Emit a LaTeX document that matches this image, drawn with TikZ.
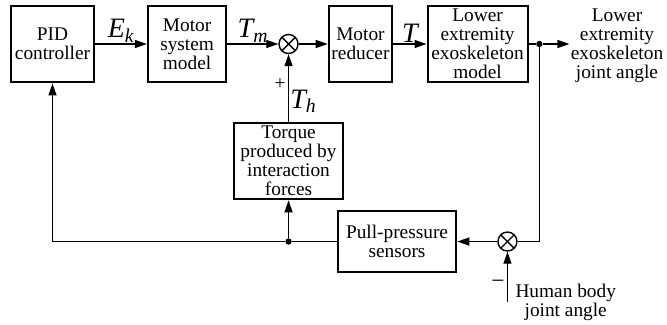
\documentclass[tikz,border=0pt]{standalone}
\usepackage{fontspec}
\setmainfont{Liberation Serif}
\usetikzlibrary{positioning, calc, arrows.meta}
\tikzset{
  % Block diagram
  block/.style     = { draw, line width=1.8pt, align=center, inner sep=0pt,
                       minimum height=2.3cm, font=\fontsize{16.5}{16.2}\selectfont },
  sumjunc/.style   = { circle, draw, line width=1.2pt, minimum size=0.57cm, inner sep=0,
                       path picture = {
                         \draw[line width=1.2pt] (path picture bounding box.north west) -- (path picture bounding box.south east);
                         \draw[line width=1.2pt] (path picture bounding box.north east) -- (path picture bounding box.south west);
                       } },
  splitdot/.style  = { circle, fill=black, minimum size=0.19cm, inner sep=0 },
  sigline/.style   = { line width=1pt },
  sigflow/.style   = { line width=1pt, -{Triangle[length=3.6mm, width=2.4mm]} },
  siglabel/.style  = { font=\fontsize{24}{26}\selectfont\itshape, inner sep=1pt },
  signlabel/.style = { font=\fontsize{16.5}{17}\selectfont, inner sep=2pt },
  plaintext/.style = { align=center, inner sep=1pt, font=\fontsize{16.5}{16.2}\selectfont }
}
\newcommand{\sigsub}[2]{#1\textsubscript{#2}}

\begin{document}
\begin{tikzpicture}[node distance=1.5cm]
  \useasboundingbox (-1.575,-8.4) rectangle (18.435,1.32);

  % forward path
  \node[block, minimum width=2.5cm] (pid) {PID\\controller};
  \node[block, minimum width=2.35cm, right=1.55cm of pid] (motor) {Motor\\system\\model};
  \node[sumjunc, right=1.53cm of motor] (sumtq) {};
  \node[block, minimum width=1.9cm, right=0.87cm of sumtq] (reducer) {Motor\\reducer};
  \node[block, minimum width=3.0cm, right=1.0cm of reducer] (exo) {Lower\\extremity\\exoskeleton\\model};
  \node[splitdot, right=0.22cm of exo] (split) {};
  \coordinate[right=0.8cm of split] (outend);
  \node[plaintext, right=0pt of outend, yshift=-0.06cm] (outtxt) {Lower\\extremity\\exoskeleton\\joint angle};

  % feedback path
  \node[block, minimum width=3.28cm, minimum height=2.3cm, below=2.02cm of sumtq] (torque) {Torque\\produced by\\interaction\\forces};
  \node[block, minimum width=3.55cm, minimum height=1.85cm, below=0.28cm of torque, xshift=3.255cm] (sensors) {Pull-pressure\\sensors};
  \node[sumjunc, right=1.2cm of sensors] (sumang) {};
  \node[splitdot] (fbdot) at (torque |- sensors) {};
  \coordinate[below=1.515cm of sumang] (humanin);
  \node[plaintext, right=0.2cm of humanin] (humantxt) {Human body\\joint angle};

  \draw[sigflow] (pid) -- node[siglabel, above]{\sigsub{E}{k}} (motor);
  \draw[sigflow] (motor) -- node[siglabel, above]{\sigsub{T}{m}} (sumtq);
  \draw[sigflow] (sumtq) -- (reducer);
  \draw[sigflow] (reducer) -- node[siglabel, above]{T} (exo);
  \draw[sigline] (exo) -- (split);
  \draw[sigflow] (split) -- (outend);
  \draw[sigline] (split) |- (sumang);
  \draw[sigflow] (sumang) -- (sensors);
  \draw[sigline] (sensors) -- (fbdot);
  \draw[sigflow] (fbdot) -- (torque);
  \draw[sigflow] (fbdot) -| (pid);
  \draw[sigflow] (torque) -- node[siglabel, right, pos=0.3]{\sigsub{T}{h}}
                             node[signlabel, left, pos=0.55]{+} (sumtq);
  \draw[sigflow] (humanin) -- node[signlabel, left, pos=0.36, font=\fontsize{20}{20}\selectfont]{−} (sumang);

\end{tikzpicture}
\end{document}
